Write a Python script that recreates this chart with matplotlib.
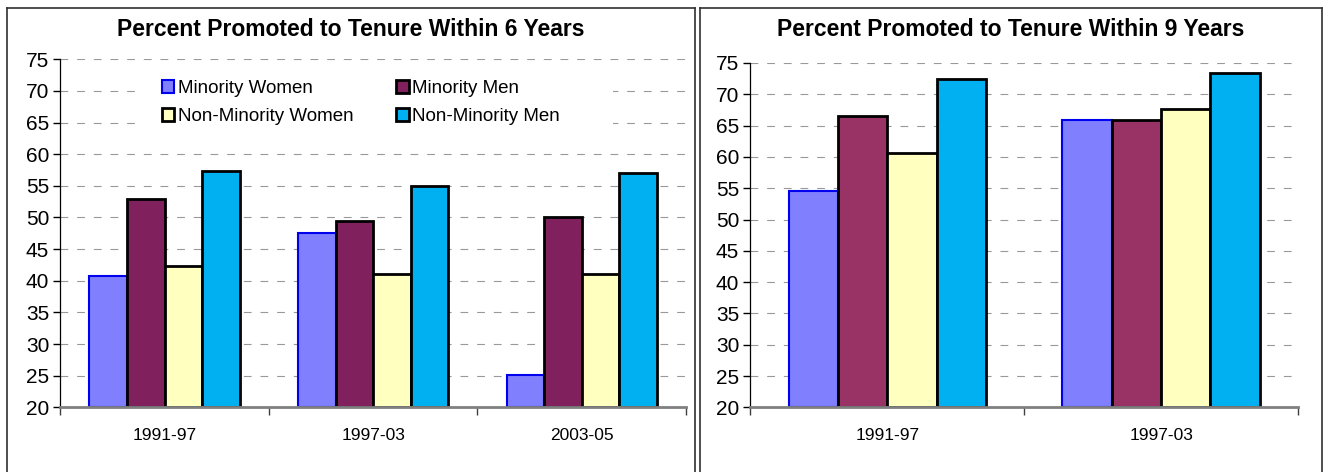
import matplotlib
matplotlib.use("Agg")
import matplotlib.pyplot as plt
import numpy as np
from matplotlib.patches import Rectangle
from matplotlib.lines import Line2D

# data
series = ["Minority Women", "Minority Men", "Non-Minority Women", "Non-Minority Men"]

periods_6 = ["1991-97", "1997-03", "2003-05"]
minority_women_6 = [40.7, 47.5, 25.1]
minority_men_6 = [52.9, 49.4, 50.0]
non_minority_women_6 = [42.3, 41.1, 41.1]
non_minority_men_6 = [57.4, 54.9, 57.1]

periods_9 = ["1991-97", "1997-03"]
minority_women_9 = [54.6, 65.9]
minority_men_9 = [66.6, 65.9]
non_minority_women_9 = [60.7, 67.6]
non_minority_men_9 = [72.4, 73.4]

W, H = 1327, 472
plt.rcParams['font.family'] = ['Liberation Sans', 'DejaVu Sans']

fig = plt.figure(figsize=(W / 100, H / 100), dpi=100)


def fx(px):
    return px / W


def fy(py):
    return 1 - py / H


def panel(x0, x1):
    # chart-area border (no bottom edge visible in the original)
    kw = dict(transform=fig.transFigure, color='#303030', lw=1.2)
    fig.lines.append(Line2D([fx(x0), fx(x0)], [0, fy(8)], **kw))
    fig.lines.append(Line2D([fx(x1), fx(x1)], [0, fy(8)], **kw))
    fig.lines.append(Line2D([fx(x0), fx(x1)], [fy(8), fy(8)], **kw))


def draw_chart(rect, periods, values, colors, edges, title, title_x):
    ax = fig.add_axes(rect)
    n = len(periods)
    x = np.arange(n)
    w = 0.18
    bars = []
    for j, (vals, c, ec) in enumerate(zip(values, colors, edges)):
        lw = 1.5 if j == 0 else 2.0
        b = ax.bar(x + (j - 1.5) * w, np.array(vals) - 20, bottom=20, width=w,
                   color=c, edgecolor=ec, linewidth=lw, label=series[j], zorder=2)
        bars.append(b)
    ax.set_xlim(-0.5, n - 0.5)
    ax.set_ylim(20, 75)
    ax.set_yticks(range(20, 80, 5))
    ax.set_xticks(np.arange(n + 1) - 0.5)
    ax.set_xticklabels([])
    ax.set_xticks(x, minor=True)
    ax.set_xticklabels(periods, minor=True, fontsize=12.5)
    ax.tick_params(axis='x', which='minor', length=0, pad=15)
    ax.tick_params(axis='x', which='major', length=6, width=1, color='#404040')
    ax.tick_params(axis='y', labelsize=15, length=5, width=1, pad=3, color='black')
    ax.set_axisbelow(True)
    ax.yaxis.grid(True, linestyle=(0, (7, 8)), color='#999999', linewidth=0.8)
    for s in ['top', 'right']:
        ax.spines[s].set_visible(False)
    ax.spines['left'].set_linewidth(0.9)
    ax.spines['bottom'].set_color('#808080')
    ax.spines['bottom'].set_linewidth(2)
    fig.text(title_x, fy(30), title, ha='center', va='center',
             fontsize=16.5, fontweight='bold')
    return ax, bars


colors_6 = ['#8080FF', '#80205C', '#FFFFC0', '#00B0F0']
colors_9 = ['#8080FF', '#993366', '#FFFFC0', '#00B0F0']
edges = ['#0000EE', 'black', 'black', 'black']

ax1, bars1 = draw_chart(
    [fx(60.3), fy(407.3), fx(686) - fx(60.3), fy(59.3) - fy(407.3)],
    periods_6,
    [minority_women_6, minority_men_6, non_minority_women_6, non_minority_men_6],
    colors_6, edges, "Percent Promoted to Tenure Within 6 Years", fx(351))

ax2, bars2 = draw_chart(
    [fx(750.3), fy(407.3), fx(1298) - fx(750.3), fy(63) - fy(407.3)],
    periods_9,
    [minority_women_9, minority_men_9, non_minority_women_9, non_minority_men_9],
    colors_9, edges, "Percent Promoted to Tenure Within 9 Years", fx(1011))

panel(7, 695)
panel(700, 1322)

# white legend backdrop that hides the gridlines, as in the original
ax1.add_patch(Rectangle((fx(138), fy(140)), fx(613) - fx(138), fy(64) - fy(140),
                        transform=fig.transFigure, facecolor='white',
                        edgecolor='none', zorder=1))

handles = [bars1[0], bars1[2], bars1[1], bars1[3]]
labels = [series[0], series[2], series[1], series[3]]
leg = ax1.legend(handles, labels, ncol=2, loc='upper left',
                 bbox_to_anchor=(fx(161.7), fy(80)), bbox_transform=fig.transFigure,
                 frameon=False, fontsize=13.5, borderpad=0, borderaxespad=0,
                 handlelength=0.65, handleheight=0.7, handletextpad=0.2,
                 columnspacing=2.3, labelspacing=0.57)

fig.savefig("out.png", dpi=100)
